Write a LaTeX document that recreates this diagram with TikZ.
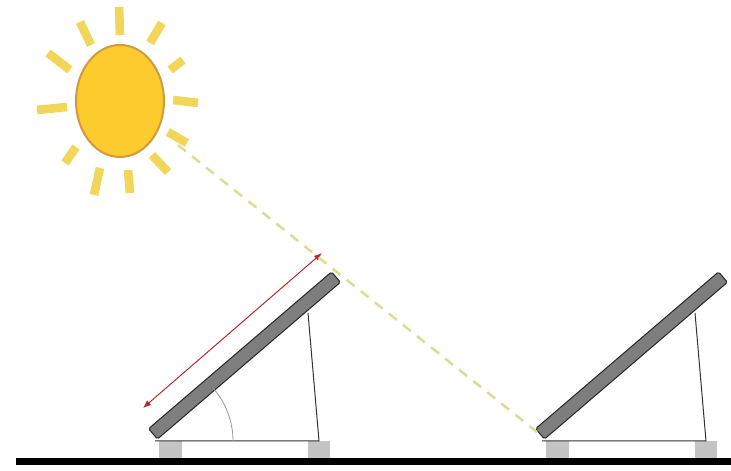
\documentclass[tikz,border=0pt]{standalone}
\usepackage{tikz}
\usetikzlibrary{arrows.meta,positioning,shapes.geometric}

\definecolor{sunfill}{HTML}{FCCB2E}
\definecolor{sunrim}{HTML}{D09A3E}
\definecolor{rayyellow}{HTML}{F2D65A}
\definecolor{beam}{HTML}{DADD92}
\definecolor{panelgray}{HTML}{7E7E7E}
\definecolor{footgray}{HTML}{C4C4C4}
\definecolor{lenred}{HTML}{B8282C}

\begin{document}
\begin{tikzpicture}[
  x=0.3mm, y=0.3mm,
  sunbody/.style={ellipse,draw=sunrim,fill=sunfill,line width=0.6mm,
    minimum width=26.4mm,minimum height=33.6mm,inner sep=0},
  sunray/.style={rayyellow,line width=2.6mm},
  sunbeam/.style={beam,line width=0.75mm,dash pattern=on 3mm off 2.4mm},
  panelbar/.style={rectangle,draw=black!85,fill=panelgray,line width=0.3mm,
    rounded corners=0.5mm,minimum width=72.3mm,minimum height=4.1mm,inner sep=0},
  frame/.style={black!80,line width=0.3mm},
  foot/.style={fill=footgray,draw=none},
  lenarrow/.style={lenred,line width=0.3mm,{Latex[length=2.4mm,width=1.9mm]}-{Latex[length=2.4mm,width=1.9mm]}},
  anglearc/.style={black!40,line width=0.25mm}
]
\useasboundingbox (0,0) rectangle (731,471);

% sun
\foreach \ax/\ay/\bx/\by in {119/464/120/436, 80/449/91/426, 162/448/150/428,
    48/418/70/401, 183/411/170/401, 37/361/67/364, 173/371/198/368,
    76/324/65/308, 168/339/187/328, 100/303/94/276, 128/301/130/278,
    152/316/168/299}
  \draw[sunray] (\ax,\ay) -- (\bx,\by);
\node[sunbody] (sun) at (120,370) {};

% two rows of panels
\foreach \s [count=\i] in {0,387} {
  \begin{scope}[shift={(\s,0)}]
    \fill[foot] (159,12) rectangle (182,30);
    \fill[foot] (308,12) rectangle (330,30);
    \draw[frame] (155,30) -- (319,30) -- (308,158);
    \node[panelbar,rotate=40.6] (panel\i) at (244.5,115.5) {};
  \end{scope}
}

% tilt angle and panel length
\draw[anglearc] (233,30) arc[start angle=0,end angle=40.6,radius=80];
\coordinate (lenA) at (143,63);
\coordinate (lenB) at (322,218);
\draw[lenarrow] (lenA) -- (lenB);

% ray grazing the first row
\coordinate (beamA) at (178,326);
\coordinate (beamB) at (537,39);
\draw[sunbeam] (beamA) -- (beamB);

% ground
\draw[black,line width=2.1mm] (16,9.5) -- (731,9.5);
\end{tikzpicture}
\end{document}
